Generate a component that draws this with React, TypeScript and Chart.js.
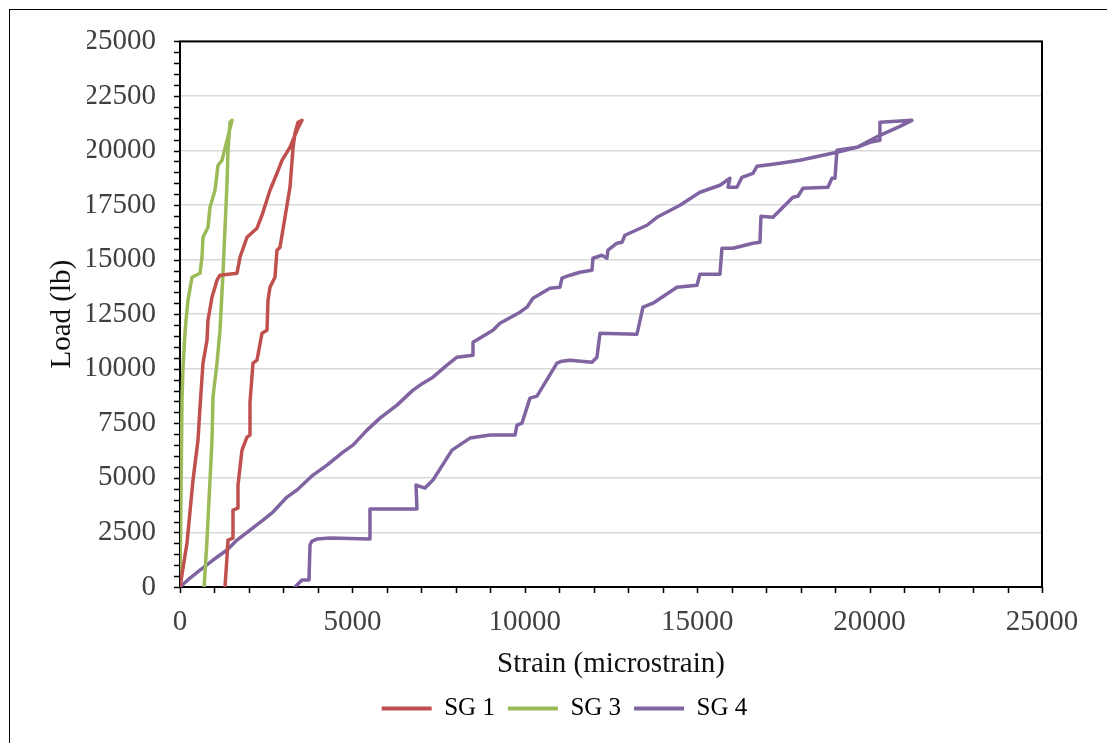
import React, { useEffect, useRef } from 'react';
import { Chart, registerables } from 'chart.js';

Chart.register(...registerables);

const FONT = "'Liberation Serif', 'Times New Roman', serif";

const X_TICKS = [0, 5000, 10000, 15000, 20000, 25000];
const Y_TICKS = [0, 2500, 5000, 7500, 10000, 12500, 15000, 17500, 20000, 22500, 25000];
const X_MINOR_STEP = 1000;
const Y_MINOR_STEP = 500;

const SERIES_LABELS = ['SG 1', 'SG 3', 'SG 4'];
const SERIES_COLORS = ['#C0504D', '#9BBB59', '#8064A2'];

const SG1_STRAIN = [0, 203, 377, 522, 580, 667, 783, 812, 928, 1073, 1160, 1653, 1740, 1943, 2233, 2378, 2610, 2813, 2958, 3190, 3393, 3538,
  3422, 3335, 3277, 3190, 3045, 2900, 2813, 2755, 2610, 2552, 2523, 2378, 2233, 2117, 2030, 2030, 1943, 1798, 1682, 1682, 1537, 1537, 1392, 1363, 1305];
const SG1_LOAD = [0, 2015, 4900, 6731, 8242, 10257, 11310, 12226, 13279, 14058, 14286, 14378, 15111, 16027, 16439, 17034, 18179, 18957, 19552, 20148, 20926, 21384,
  21292, 20789, 20102, 18316, 16942, 15569, 15432, 14195, 13737, 13142, 11768, 11631, 10394, 10257, 8471, 6960, 6869, 6273, 4671, 3617, 3526, 2244, 2152, 1374, 0];

const SG3_STRAIN = [0, 58, 87, 145, 174, 232, 348, 580, 638, 667, 812, 870, 1015, 1102, 1218, 1363, 1508,
  1450, 1392, 1363, 1247, 1160, 1073, 957, 928, 783, 700];
const SG3_LOAD = [0, 8563, 10074, 11631, 12226, 13142, 14195, 14378, 15111, 16027, 16485, 17400, 18179, 19324, 19552, 20468, 21384,
  21292, 20010, 18499, 14378, 11768, 10257, 8700, 6731, 2152, 0];

const SG4_STRAIN = [3335, 3538, 3741, 3770, 3828, 3973, 4350, 5510, 5510, 6873, 6844, 7105, 7337, 7888, 8410, 8990, 9715, 9773, 9918, 10150, 10353,
  10933, 11078, 11310, 11948, 12093, 12180, 13253, 13427, 13717, 14413, 14993, 15080, 15660, 15718, 16037, 16617, 16820, 16849, 17197, 17777, 17922,
  18067, 18792, 18908, 18995, 19053,
  19633, 20010, 20300, 20300, 21228,
  20880, 20300, 19633, 19053, 17980, 17400, 17197, 16733, 16617, 16298, 16153, 15892, 15950, 15660, 15080, 14500, 13833, 13543, 12905, 12818,
  12673, 12412, 12383, 12238, 11977, 11948, 11600, 11310, 11078, 11020, 10730, 10237, 10063, 9860, 9280, 9077, 8497, 8497, 8033, 7743, 7337, 7047,
  6757, 6293, 5800, 5423, 5017, 4727, 4263, 3857, 3393, 3103, 2697, 2407, 2030, 1653, 1363, 957, 580, 290, 0];
const SG4_LOAD = [0, 321, 321, 1923, 2107, 2198, 2244, 2198, 3572, 3572, 4671, 4533, 4900, 6273, 6823, 6960, 6960, 7418, 7510, 8654, 8746,
  10257, 10348, 10394, 10303, 10532, 11631, 11585, 12821, 13004, 13737, 13829, 14332, 14332, 15523, 15523, 15752, 15798, 16988, 16942, 17858, 17904,
  18270, 18316, 18728, 18728, 20010,
  20148, 20377, 20468, 21292, 21384,
  21109, 20697, 20148, 19919, 19552, 19415, 19369, 19277, 18957, 18774, 18316, 18316, 18728, 18408, 18087, 17492, 16942, 16576, 16118, 15797,
  15752, 15431, 15065, 15202, 15065, 14515, 14424, 14286, 14149, 13737, 13691, 13233, 12821, 12592, 12088, 11768, 11218, 10623, 10532, 10165, 9616, 9341,
  9021, 8334, 7739, 7189, 6502, 6182, 5586, 5128, 4442, 4121, 3434, 3068, 2610, 2152, 1694, 1236, 778, 412, 0];

const toPoints = (xs: number[], ys: number[]) => xs.map((x, i) => ({ x, y: ys[i] }));

const axisFrame = {
  id: 'axisFrame',
  beforeDatasetsDraw(chart: any) {
    const { ctx, chartArea } = chart;
    const xs = chart.scales.x;
    const ys = chart.scales.y;
    ctx.save();
    ctx.strokeStyle = '#000';
    ctx.lineWidth = 1.5;
    ctx.beginPath();
    for (let v = xs.min; v <= xs.max; v += X_MINOR_STEP) {
      const px = Math.round(xs.getPixelForValue(v)) + 0.5;
      ctx.moveTo(px, chartArea.bottom);
      ctx.lineTo(px, chartArea.bottom + 6);
    }
    for (let v = ys.min; v <= ys.max; v += Y_MINOR_STEP) {
      const py = Math.round(ys.getPixelForValue(v)) + 0.5;
      ctx.moveTo(chartArea.left - 6, py);
      ctx.lineTo(chartArea.left, py);
    }
    ctx.stroke();
    ctx.lineWidth = 2;
    ctx.strokeRect(chartArea.left, chartArea.top, chartArea.right - chartArea.left, chartArea.bottom - chartArea.top);
    ctx.restore();
  },
};

export default function App() {
  const canvasRef = useRef<HTMLCanvasElement | null>(null);

  useEffect(() => {
    const canvas = canvasRef.current;
    if (!canvas) return;
    const seriesX = [SG1_STRAIN, SG3_STRAIN, SG4_STRAIN];
    const seriesY = [SG1_LOAD, SG3_LOAD, SG4_LOAD];
    const chart = new Chart(canvas, {
      type: 'scatter',
      data: {
        datasets: SERIES_LABELS.map((label, i) => ({
          label,
          data: toPoints(seriesX[i], seriesY[i]),
          showLine: true,
          borderColor: SERIES_COLORS[i],
          backgroundColor: SERIES_COLORS[i],
          borderWidth: 3.5,
          pointRadius: 0,
          pointHoverRadius: 0,
          tension: 0,
          borderJoinStyle: 'round',
          borderCapStyle: 'round',
        })),
      },
      options: {
        responsive: false,
        animation: false,
        events: [],
        layout: { padding: { left: 87, right: 65, top: 41, bottom: 12 } },
        scales: {
          x: {
            type: 'linear',
            min: 0,
            max: 25000,
            afterBuildTicks: (s: any) => { s.ticks = X_TICKS.map((v) => ({ value: v })); },
            afterFit: (s: any) => { s.height = 96; },
            ticks: {
              autoSkip: false,
              maxRotation: 0,
              padding: 18,
              color: '#404040',
              font: { family: FONT, size: 29 },
              callback: (v: any) => String(v),
            },
            grid: { display: false, drawTicks: false },
            border: { display: false },
            title: {
              display: true,
              text: 'Strain (microstrain)',
              color: '#111',
              font: { family: FONT, size: 29 },
              padding: { top: 0, bottom: 1 },
            },
          },
          y: {
            type: 'linear',
            min: 0,
            max: 25000,
            afterBuildTicks: (s: any) => { s.ticks = Y_TICKS.map((v) => ({ value: v })); },
            afterFit: (s: any) => { s.width = 93; },
            ticks: {
              autoSkip: false,
              padding: 24,
              color: '#404040',
              font: { family: FONT, size: 29 },
              callback: (v: any) => String(v),
            },
            grid: { color: '#D9D9D9', lineWidth: 1.5, drawTicks: false },
            border: { display: false },
            title: {
              display: true,
              text: 'Load (lb)',
              color: '#111',
              font: { family: FONT, size: 29 },
              padding: { top: -42, bottom: 0 },
            },
          },
        },
        plugins: {
          legend: {
            display: true,
            position: 'bottom',
            labels: {
              boxWidth: 50,
              boxHeight: 4,
              padding: 13,
              color: '#111',
              font: { family: FONT, size: 25 },
              generateLabels: (c: any) =>
                c.data.datasets.map((d: any, i: number) => ({
                  text: d.label,
                  fillStyle: d.borderColor,
                  strokeStyle: d.borderColor,
                  lineWidth: 0,
                  hidden: false,
                  datasetIndex: i,
                })),
            },
          },
          tooltip: { enabled: false },
        },
      },
      plugins: [axisFrame],
    } as any);
    return () => chart.destroy();
  }, []);

  return (
    <div style={{ position: 'fixed', left: 0, top: 0, width: 1107, height: 743, background: '#fff', overflow: 'hidden' }}>
      <div style={{ position: 'absolute', left: 9, top: 9, width: 1200, height: 800, borderLeft: '1px solid #000', borderTop: '1px solid #000' }} />
      <canvas ref={canvasRef} width={1107} height={743} style={{ position: 'absolute', left: 0, top: 0, width: 1107, height: 743 }} />
    </div>
  );
}
